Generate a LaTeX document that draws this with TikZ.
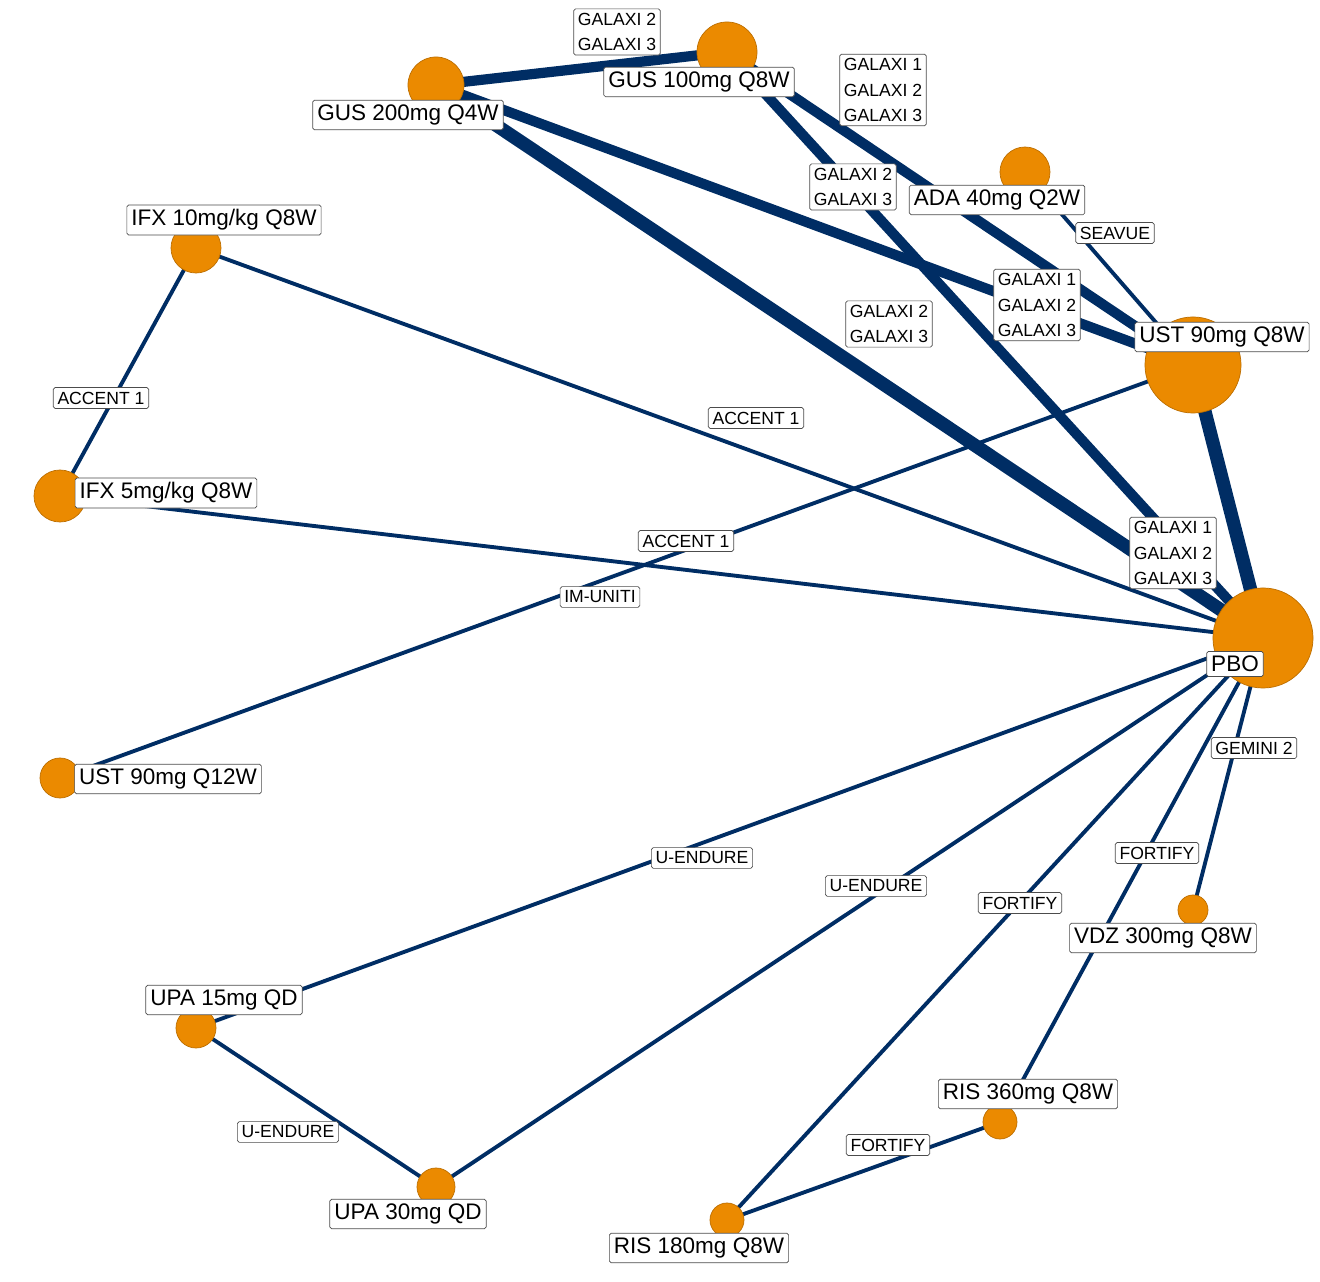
\documentclass[tikz,border=0pt]{standalone}
\usepackage{fontspec}
\setmainfont{Liberation Sans}
\definecolor{netblue}{RGB}{0,45,100}
\definecolor{netorange}{RGB}{235,138,0}
\begin{document}
\begin{tikzpicture}[x=0.01cm,y=-0.01cm,
  trt/.style={circle, fill=netorange, draw=netorange!80!black, very thin, inner sep=0pt},
  tname/.style={draw=black!70, fill=white, rounded corners=0.5pt, very thin, inner sep=1.3pt, font=\fontsize{6.4}{7}\selectfont},
  study/.style={draw=black!70, fill=white, rounded corners=0.5pt, very thin, inner sep=1.2pt, align=left, font=\fontsize{5.0}{7.2}\selectfont},
  arm/.style={draw=netblue, line width=1.1pt},
  armk/.style={draw=netblue, line width=2.9pt},
  armkk/.style={draw=netblue, line width=3.8pt}]
  \useasboundingbox (0,0) rectangle (1320,1282);
  % treatments
  \coordinate (G100) at (727,52);
  \coordinate (G200) at (436,85);
  \coordinate (ADA) at (1025,172);
  \coordinate (UST8) at (1193,365);
  \coordinate (PBO) at (1263,638);
  \coordinate (VDZ) at (1193,910);
  \coordinate (R360) at (1000,1122);
  \coordinate (R180) at (727,1220);
  \coordinate (U30) at (436,1187);
  \coordinate (U15) at (196,1028);
  \coordinate (UST12) at (60,778);
  \coordinate (I5) at (60,496);
  \coordinate (I10) at (196,248);
  % comparisons
  \draw[armk] (G200) -- (G100);
  \draw[armk] (G100) -- (UST8);
  \draw[armk] (G100) -- (PBO);
  \draw[armk] (G200) -- (UST8);
  \draw[armkk] (G200) -- (PBO);
  \draw[armkk] (UST8) -- (PBO);
  \draw[arm] (ADA) -- (UST8);
  \draw[arm] (I10) -- (I5);
  \draw[arm] (I10) -- (PBO);
  \draw[arm] (I5) -- (PBO);
  \draw[arm] (UST12) -- (UST8);
  \draw[arm] (PBO) -- (U15);
  \draw[arm] (PBO) -- (U30);
  \draw[arm] (U15) -- (U30);
  \draw[arm] (PBO) -- (R180);
  \draw[arm] (PBO) -- (R360);
  \draw[arm] (R180) -- (R360);
  \draw[arm] (PBO) -- (VDZ);
  % circles
  \foreach \n/\s in {G100/60, G200/56, ADA/50, UST8/96, PBO/100, VDZ/30, R360/34, R180/34, U30/38, U15/40, UST12/40, I5/52, I10/50}
    \node[trt, minimum size=\s*0.2845pt] (c\n) at (\n) {};
  % study labels
  \node[study] (s1) at (617,32) {GALAXI 2\\GALAXI 3};
  \node[study] (s2) at (883,90) {GALAXI 1\\GALAXI 2\\GALAXI 3};
  \node[study] (s3) at (853,187) {GALAXI 2\\GALAXI 3};
  \node[study] (s4) at (1115,233) {SEAVUE};
  \node[study] (s5) at (1037,305) {GALAXI 1\\GALAXI 2\\GALAXI 3};
  \node[study] (s6) at (889,324) {GALAXI 2\\GALAXI 3};
  \node[study] (s7) at (1173,553) {GALAXI 1\\GALAXI 2\\GALAXI 3};
  \node[study] (s8) at (101,398) {ACCENT 1};
  \node[study] (s9) at (756,418) {ACCENT 1};
  \node[study] (s10) at (686,541) {ACCENT 1};
  \node[study] (s11) at (600,597) {IM-UNITI};
  \node[study] (s12) at (1254,748) {GEMINI 2};
  \node[study] (s13) at (1157,853) {FORTIFY};
  \node[study] (s14) at (702,858) {U-ENDURE};
  \node[study] (s15) at (876,886) {U-ENDURE};
  \node[study] (s16) at (1020,903) {FORTIFY};
  \node[study] (s17) at (288,1132) {U-ENDURE};
  \node[study] (s18) at (888,1145) {FORTIFY};
  % treatment names
  \node[tname] at (699,82) {GUS 100mg Q8W};
  \node[tname] at (408,115) {GUS 200mg Q4W};
  \node[tname] at (997,200) {ADA 40mg Q2W};
  \node[tname] at (1222,337) {UST 90mg Q8W};
  \node[tname] at (1235,664) {PBO};
  \node[tname] at (1163,938) {VDZ 300mg Q8W};
  \node[tname] at (1028,1094) {RIS 360mg Q8W};
  \node[tname] at (699,1248) {RIS 180mg Q8W};
  \node[tname] at (408,1214) {UPA 30mg QD};
  \node[tname] at (224,1000) {UPA 15mg QD};
  \node[tname] at (168,779) {UST 90mg Q12W};
  \node[tname] at (166,493) {IFX 5mg/kg Q8W};
  \node[tname] at (224,220) {IFX 10mg/kg Q8W};
\end{tikzpicture}
\end{document}
